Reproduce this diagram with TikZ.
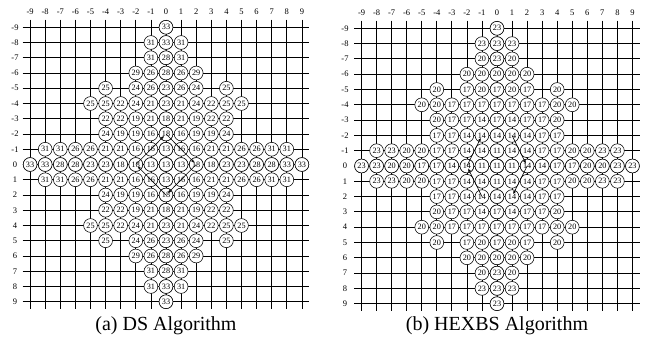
\documentclass[tikz,border=0pt]{standalone}
\usepackage{fontspec}
\setmainfont{Liberation Serif}
\usetikzlibrary{arrows.meta}

\tikzset{
  gridline/.style={line width=0.8pt},
  spot/.style={circle,draw,fill=white,line width=0.55pt,minimum size=13.8pt,inner sep=0pt,
    font=\fontsize{8.2}{8}\selectfont},
  axislbl/.style={font=\fontsize{8.5}{9}\selectfont,inner sep=0pt},
  caption/.style={font=\fontsize{20}{22}\selectfont,inner sep=0pt},
  srch/.style={line width=0.6pt,shorten >=3pt,-{Stealth[length=3.5pt,width=3pt]}}
}

\begin{document}
\begin{tikzpicture}[x=1pt,y=1pt]
\useasboundingbox (0,0) rectangle (649,-342);
% (a) DS
\begin{scope}[shift={(166,-164.5)},x=15.1pt,y=-15.25pt]
  \foreach \k in {-9,...,9} {
    \draw[gridline] (-9.5,\k) -- (9.5,\k);
    \draw[gridline] (\k,-9.5) -- (\k,9.5);
    \node[axislbl] (dsx\k) at (\k,-10) {\k};
    \node[axislbl] (dsy\k) at (-10,\k) {\k};
  }
  \foreach \a/\b/\v in {0/0/13,1/0/13,2/0/18,3/0/18,4/0/23,5/0/23,6/0/28,7/0/28,8/0/33,9/0/33,
      0/1/13,1/1/16,2/1/16,3/1/21,4/1/21,5/1/26,6/1/26,7/1/31,8/1/31,
      0/2/18,1/2/16,2/2/19,3/2/19,4/2/24,
      0/3/18,1/3/21,2/3/19,3/3/22,4/3/22,
      0/4/23,1/4/21,2/4/24,3/4/22,4/4/25,5/4/25,
      0/5/23,1/5/26,2/5/24,4/5/25,
      0/6/28,1/6/26,2/6/29,
      0/7/28,1/7/31,0/8/33,1/8/31,0/9/33} {
    \foreach \sx/\sy in {1/1,1/-1,-1/1,-1/-1} {
      \pgfmathtruncatemacro\i{\sx*\a+9}
      \pgfmathtruncatemacro\j{\sy*\b+9}
      \node[spot] (ds-\i-\j) at (\sx*\a,\sy*\b) {\v};
    }
  }
  % diamond search steps
  \draw[srch] (ds-9-7.center) -- (ds-11-9.center);
  \draw[srch] (ds-11-9.center) -- (ds-9-11.center);
  \draw[srch] (ds-9-11.center) -- (ds-7-9.center);
  \draw[srch] (ds-7-9.center) -- (ds-9-7.center);
  \node[caption] (dscap) at (0,10.55) {(a) DS Algorithm};
\end{scope}
% (b) HEXBS
\begin{scope}[shift={(497,-166)},x=15.05pt,y=-15.3pt]
  \foreach \k in {-9,...,9} {
    \draw[gridline] (-9.5,\k) -- (9.5,\k);
    \draw[gridline] (\k,-9.5) -- (\k,9.5);
    \node[axislbl] (hxx\k) at (\k,-10) {\k};
    \node[axislbl] (hxy\k) at (-10.1,\k) {\k};
  }
  \foreach \a/\b/\v in {0/0/11,1/0/11,2/0/14,3/0/14,4/0/17,5/0/17,6/0/20,7/0/20,8/0/23,9/0/23,
      0/1/11,1/1/14,2/1/14,3/1/17,4/1/17,5/1/20,6/1/20,7/1/23,8/1/23,
      0/2/14,1/2/14,2/2/14,3/2/17,4/2/17,
      0/3/17,1/3/14,2/3/17,3/3/17,4/3/20,
      0/4/17,1/4/17,2/4/17,3/4/17,4/4/20,5/4/20,
      0/5/17,1/5/20,2/5/17,4/5/20,
      0/6/20,1/6/20,2/6/20,
      0/7/23,1/7/20,0/8/23,1/8/23,0/9/23} {
    \foreach \sx/\sy in {1/1,1/-1,-1/1,-1/-1} {
      \pgfmathtruncatemacro\i{\sx*\a+9}
      \pgfmathtruncatemacro\j{\sy*\b+9}
      \node[spot] (hx-\i-\j) at (\sx*\a,\sy*\b) {\v};
    }
  }
  % hexagon search steps
  \draw[srch] (hx-7-9.center) -- (hx-8-7.center);
  \draw[srch] (hx-10-7.center) -- (hx-11-9.center);
  \draw[srch] (hx-11-9.center) -- (hx-10-11.center);
  \draw[srch] (hx-8-11.center) -- (hx-7-9.center);
  \node[caption] (hxcap) at (0,10.45) {(b) HEXBS Algorithm};
\end{scope}
\end{tikzpicture}
\end{document}
